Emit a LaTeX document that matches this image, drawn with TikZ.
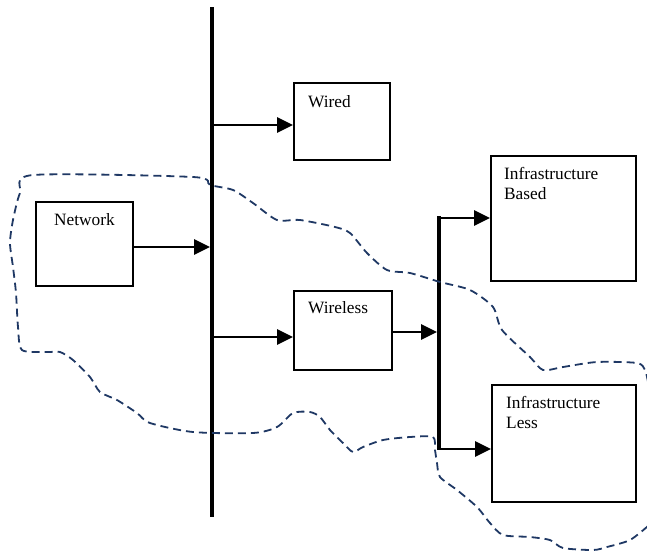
\documentclass[tikz,border=0pt]{standalone}
\usepackage{fontspec}
\setmainfont{Liberation Serif}
\usetikzlibrary{arrows.meta}
\definecolor{navy}{RGB}{31,56,100}
\tikzset{
  box/.style={draw=black, line width=2pt, rectangle, inner sep=0pt},
  lbl/.style={font=\fontsize{17.3}{19.5}\selectfont, inner sep=0pt, align=left},
  arr/.style={line width=2.8pt, -{Triangle[length=16pt,width=15pt]}},
  busbar/.style={line width=4.2pt},
  cloud/.style={navy, line width=1.8pt, dash pattern=on 8pt off 5pt}
}
\begin{document}
\begin{tikzpicture}[x=1pt,y=-1pt]
\useasboundingbox (0,0) rectangle (647,552);
% boxes
\node[box, minimum width=97pt, minimum height=84pt] (network) at (84.5,244) {};
\node[box, minimum width=96pt, minimum height=77pt] (wired) at (342,121.5) {};
\node[box, minimum width=98pt, minimum height=79pt] (wireless) at (343,330.5) {};
\node[box, minimum width=145pt, minimum height=125pt] (infb) at (563.5,218.5) {};
\node[box, minimum width=144pt, minimum height=117pt] (infl) at (564,443.5) {};
% labels
\node[lbl, anchor=base] (networkt) at (84.5,225) {Network};
\node[lbl, anchor=base west] (wiredt) at (308,107) {Wired};
\node[lbl, anchor=base west] (wirelesst) at (308,313.5) {Wireless};
\node[lbl, anchor=north west] (infbt) at (504,167.2) {Infrastructure\\Based};
\node[lbl, anchor=north west] (inflt) at (506,396.2) {Infrastructure\\Less};
% bars
\coordinate (b1t) at (212,7);
\coordinate (b1b) at (212,517);
\coordinate (b2t) at (439,216);
\coordinate (b2b) at (439,450);
\draw[busbar] (b1t) -- (b1b);
\draw[busbar] (b2t) -- (b2b);
% connectors
\coordinate (a1) at ([yshift=-3pt]network.east);
\draw[arr, shorten >=2pt] (a1) -- (a1 -| b1t);
\coordinate (a2) at ([yshift=-3.5pt]wired.west);
\draw[arr, shorten <=2pt] (a2 -| b1t) -- (a2);
\coordinate (a3) at ([yshift=-6.5pt]wireless.west);
\draw[arr, shorten <=2pt] (a3 -| b1t) -- (a3);
\coordinate (a4) at ([yshift=-1.5pt]wireless.east);
\draw[arr, shorten >=2pt] (a4) -- (a4 -| b2t);
\coordinate (a5) at ([yshift=0.5pt]infb.west);
\draw[arr, shorten <=2pt] (a5 -| b2t) -- (a5);
\coordinate (a6) at ([yshift=-5.5pt]infl.west);
\draw[arr, shorten <=2pt] (a6 -| b2t) -- (a6);
% dashed region
\draw[cloud] plot[smooth, tension=0.45] coordinates {
(648,382) (645,370) (637,363) (597,362) (563,367) (543,370) (530,357) (502,330)
(493,307) (470,290) (440,282) (410,273) (387,270) (367,253) (350,233) (335,227)
(300,220) (277,220) (253,203) (233,190) (210,185) (193,177) (33,175) (20,193)
(13,220) (10,243) (13,267) (16,293) (18,327) (22,350) (47,352) (60,352) (73,360)
(90,377) (100,392) (117,400) (137,413) (150,423) (193,432) (253,433) (277,427)
(293,413) (310,412) (320,417) (330,430) (343,443) (353,452) (363,447) (383,440)
(410,437) (433,437) (435,450) (437,463) (440,477) (457,490) (477,507) (490,523)
(503,535) (530,537) (550,540) (563,548) (593,550) (607,547) (630,540) (648,526)};
\end{tikzpicture}
\end{document}
